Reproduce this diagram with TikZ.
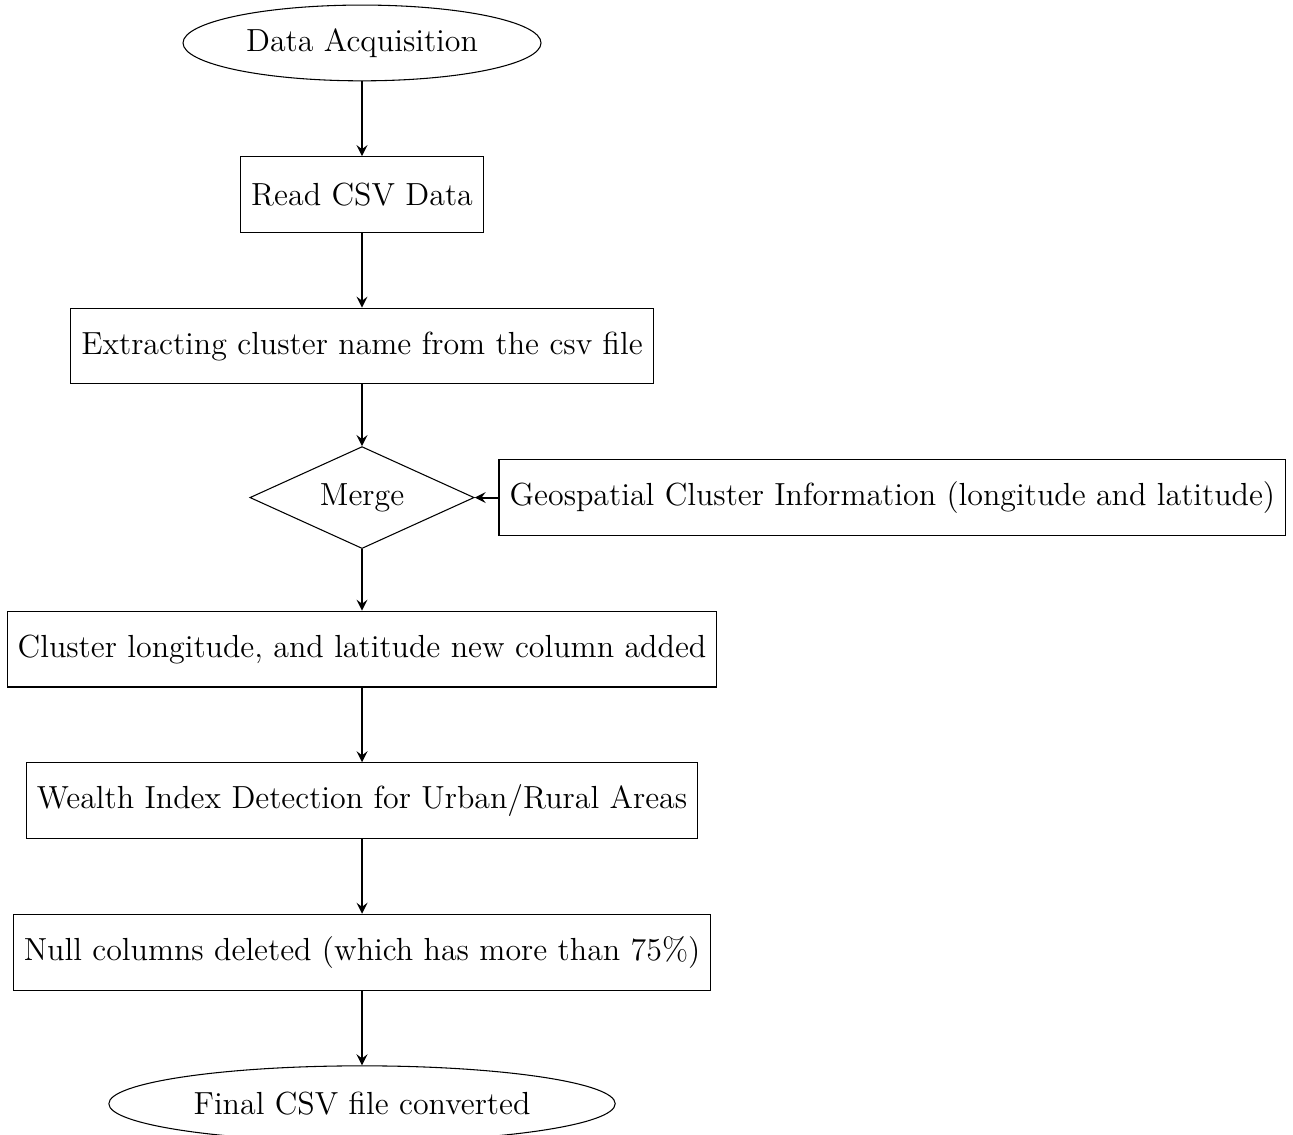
\documentclass[tikz,border=0pt,12pt]{standalone}
\usetikzlibrary{shapes.geometric,positioning}
\tikzset{
  startstop/.style={ellipse,draw,minimum height=1cm},
  process/.style={rectangle,draw,minimum height=1cm},
  decision/.style={diamond,draw,aspect=2.2,inner sep=4.55pt},
  arrow/.style={thick,->,>=stealth}
}
\begin{document}
\begin{tikzpicture}[node distance=2cm,on grid]
\useasboundingbox (-4.778,0.567) rectangle (12.287,-14.41);
\node[startstop] (acq) {Data Acquisition};
\node[process,below=of acq] (read) {Read CSV Data};
\node[process,below=of read] (extract) {Extracting cluster name from the csv file};
\node[decision,below=of extract] (merge) {Merge};
\node[process,right=7cm of merge] (geo) {Geospatial Cluster Information (longitude and latitude)};
\node[process,below=of merge] (added) {Cluster longitude, and latitude new column added};
\node[process,below=of added] (wealth) {Wealth Index Detection for Urban/Rural Areas};
\node[process,below=of wealth] (null) {Null columns deleted (which has more than 75\%)};
\node[startstop,below=of null] (final) {Final CSV file converted};
% main flow
\foreach \a/\b in {acq/read,read/extract,extract/merge,merge/added,added/wealth,wealth/null,null/final}
  \draw[arrow] (\a) -- (\b);
% side input
\draw[arrow] (geo) -- (merge);
\end{tikzpicture}
\end{document}
